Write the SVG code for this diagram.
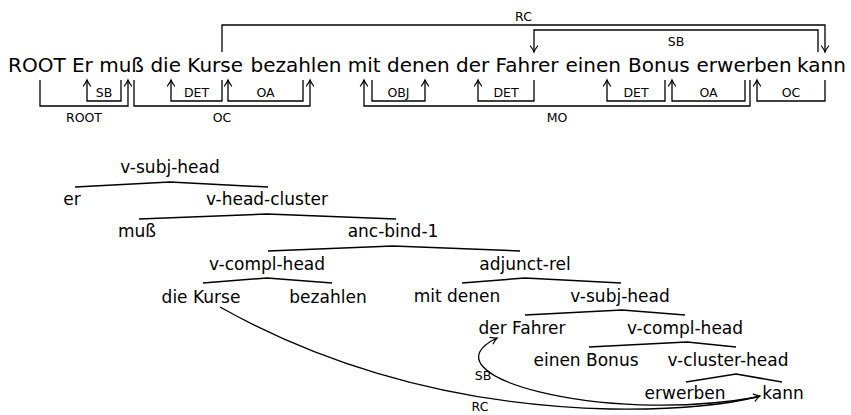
<svg xmlns="http://www.w3.org/2000/svg" width="851" height="415" viewBox="0 0 851 415">
<style>
text { font-family: "DejaVu Sans", "Liberation Sans", sans-serif; fill: #000; }
.w { font-size: 20px; }
.t { font-size: 17px; text-anchor: middle; }
.lab { font-size: 12.5px; text-anchor: middle; }
.e { fill: none; stroke: #000; stroke-width: 1.3; }
.a { marker-end: url(#ah); }
.br { fill: none; stroke: #000; stroke-width: 1.5; }
</style>
<defs>
<marker id="ah" markerUnits="userSpaceOnUse" viewBox="-8 -5 10 10" refX="0" refY="0" markerWidth="10" markerHeight="10" orient="auto">
<path d="M -6,-3.6 Q -2.2,-0.8 0,0 Q -2.2,0.8 -6,3.6" fill="none" stroke="#000" stroke-width="1.2" stroke-linecap="round"/>
</marker>
</defs>

<g id="sentence">
<g id="w-root"><text class="w" x="8" y="72">ROOT</text></g>
<g id="w-er"><text class="w" x="71.96" y="72">Er</text></g>
<g id="w-muss"><text class="w" x="99.18" y="72">muß</text></g>
<g id="w-die"><text class="w" x="150.42" y="72">die</text></g>
<g id="w-kurse"><text class="w" x="187.34" y="72">Kurse</text></g>
<g id="w-bezahlen"><text class="w" x="250.44" y="72">bezahlen</text></g>
<g id="w-mit"><text class="w" x="347.78" y="72">mit</text></g>
<g id="w-denen"><text class="w" x="387.02" y="72">denen</text></g>
<g id="w-der"><text class="w" x="456.04" y="72">der</text></g>
<g id="w-fahrer"><text class="w" x="495.62" y="72">Fahrer</text></g>
<g id="w-einen"><text class="w" x="565.5" y="72">einen</text></g>
<g id="w-bonus"><text class="w" x="628" y="72">Bonus</text></g>
<g id="w-erwerben"><text class="w" x="696.5" y="72">erwerben</text></g>
<g id="w-kann"><text class="w" x="797" y="72">kann</text></g>
</g>

<g id="dep-connectors">
<path class="e a" d="M40,80 V106 H128 V80"/>
<path class="e a" d="M121,80 V101 H87 V80"/>
<path class="e a" d="M134,80 V106 H310 V80"/>
<path class="e a" d="M222,80 V101 H171 V80"/>
<path class="e a" d="M303,80 V101 H228 V80"/>
<path class="e a" d="M750,80 V106 H364 V80"/>
<path class="e a" d="M372,80 V101 H425 V80"/>
<path class="e a" d="M534,80 V101 H478 V80"/>
<path class="e a" d="M665,80 V101 H607 V80"/>
<path class="e a" d="M745,80 V101 H672 V80"/>
<path class="e a" d="M825,80 V101 H757 V80"/>
<path class="e a" d="M222,52 V25 H825 V52"/>
<path class="e a" d="M818,52 V30 H534 V52"/>
<text class="lab" x="84" y="122">ROOT</text>
<text class="lab" x="104" y="97">SB</text>
<text class="lab" x="222" y="122">OC</text>
<text class="lab" x="196.5" y="97">DET</text>
<text class="lab" x="265.5" y="97">OA</text>
<text class="lab" x="557" y="122">MO</text>
<text class="lab" x="398.5" y="97">OBJ</text>
<text class="lab" x="506" y="97">DET</text>
<text class="lab" x="636" y="97">DET</text>
<text class="lab" x="708.5" y="97">OA</text>
<text class="lab" x="791" y="97">OC</text>
<text class="lab" x="523.5" y="21">RC</text>
<text class="lab" x="676" y="46">SB</text>
</g>

<g id="tree">
<g id="n-vsubjhead1"><text class="t" x="170" y="173">v-subj-head</text></g>
<g id="n-er"><text class="t" x="72" y="205">er</text></g>
<g id="n-vheadcluster"><text class="t" x="267" y="205">v-head-cluster</text></g>
<g id="n-muss"><text class="t" x="137" y="237">muß</text></g>
<g id="n-ancbind"><text class="t" x="393" y="237">anc-bind-1</text></g>
<g id="n-vcomplhead1"><text class="t" x="267" y="270">v-compl-head</text></g>
<g id="n-adjunctrel"><text class="t" x="525" y="270">adjunct-rel</text></g>
<g id="n-diekurse"><text class="t" x="201" y="303">die Kurse</text></g>
<g id="n-bezahlen"><text class="t" x="328" y="303">bezahlen</text></g>
<g id="n-mitdenen"><text class="t" x="457" y="302">mit denen</text></g>
<g id="n-vsubjhead2"><text class="t" x="620" y="302">v-subj-head</text></g>
<g id="n-derfahrer"><text class="t" x="522" y="334">der Fahrer</text></g>
<g id="n-vcomplhead2"><text class="t" x="685" y="334">v-compl-head</text></g>
<g id="n-einenbonus"><text class="t" x="586" y="366">einen Bonus</text></g>
<g id="n-vclusterhead"><text class="t" x="728" y="366">v-cluster-head</text></g>
<g id="n-erwerben"><text class="t" x="685" y="399">erwerben</text></g>
<g id="n-kann"><text class="t" x="783" y="399">kann</text></g>
</g>

<g id="tree-connectors">
<path class="br" d="M75,187 L170,182 L268,187"/>
<path class="br" d="M139,219 L267,214 L396,219"/>
<path class="br" d="M268,251 L393,246 L520,251"/>
<path class="br" d="M203,283 L267,278 L332,283"/>
<path class="br" d="M462,283 L525,278 L621,283"/>
<path class="br" d="M525,315 L622,310 L685,315"/>
<path class="br" d="M589,347 L687,342 L736,347"/>
<path class="br" d="M686,382 L736,374 L782,382"/>
<path class="e a" d="M220,307 C300,352 430,405 610,409 C680,410 730,404 760,396"/>
<path class="e a" d="M758,397 C600,425 420,375 497,338"/>
<text class="lab" x="483" y="380">SB</text>
<text class="lab" x="480" y="411">RC</text>
</g>
</svg>
